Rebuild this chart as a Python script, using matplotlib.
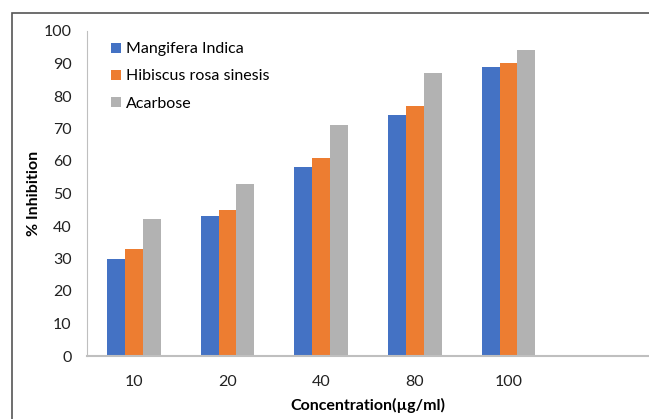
import matplotlib.pyplot as plt
import matplotlib.patches as mpatches
import numpy as np

plt.rcParams['font.family'] = ['Lato', 'DejaVu Sans']

# podaci sa grafika
koncentracije = ['10', '20', '40', '80', '100']
serije = ['Mangifera Indica', 'Hibiscus rosa sinesis', 'Acarbose']
mangifera = [30, 43, 58, 74, 89]
hibiscus = [33, 45, 61, 77, 90]
acarbose = [42, 53, 71, 87, 94]
boje = ['#4472C4', '#ED7D31', '#B2B2B2']

fig = plt.figure(figsize=(6.49, 4.19), dpi=100)
ax = fig.add_axes([87/649, 63/419, 1 - 87/649, 325/419])

x = np.arange(len(koncentracije))
w = 0.19
for i, (vals, ime) in enumerate(zip([mangifera, hibiscus, acarbose], serije)):
    ax.bar(x + (i - 1) * w, vals, w, color=boje[i], label=ime)

ax.set_xlim(-0.5, 5.5)  # prazna sesta kategorija kao u Excelu
ax.set_ylim(0, 100)
ax.set_yticks(range(0, 101, 10))
ax.set_xticks(x)
ax.set_xticklabels(koncentracije)
ax.tick_params(length=0, labelsize=11.5, colors='#222222')
ax.tick_params(axis='y', pad=11)
ax.tick_params(axis='x', pad=14)

for s in ['top', 'right']:
    ax.spines[s].set_visible(False)
ax.spines['left'].set_color('#BFBFBF')
ax.spines['bottom'].set_color('#BFBFBF')
ax.spines['bottom'].set_linewidth(1.5)

ax.set_xlabel('Concentration(µg/ml)', fontsize=11.5, fontweight='bold', labelpad=6)
ax.set_ylabel('% Inhibition', fontsize=11.5, fontweight='bold', labelpad=2)

ax.legend(loc='upper left', bbox_to_anchor=(0.043, 0.965), frameon=False,
          fontsize=11.5, handlelength=0.6, handleheight=0.6, handletextpad=0.35,
          labelspacing=0.82, borderpad=0, borderaxespad=0)

# okvir oko slike
okvir = mpatches.Rectangle((12/649, -0.1), 1.2, 1.1 - 13/419,
                           transform=fig.transFigure, fill=False,
                           edgecolor='#555555', linewidth=1.2)
fig.patches.append(okvir)

fig.savefig('out.png', dpi=100)
